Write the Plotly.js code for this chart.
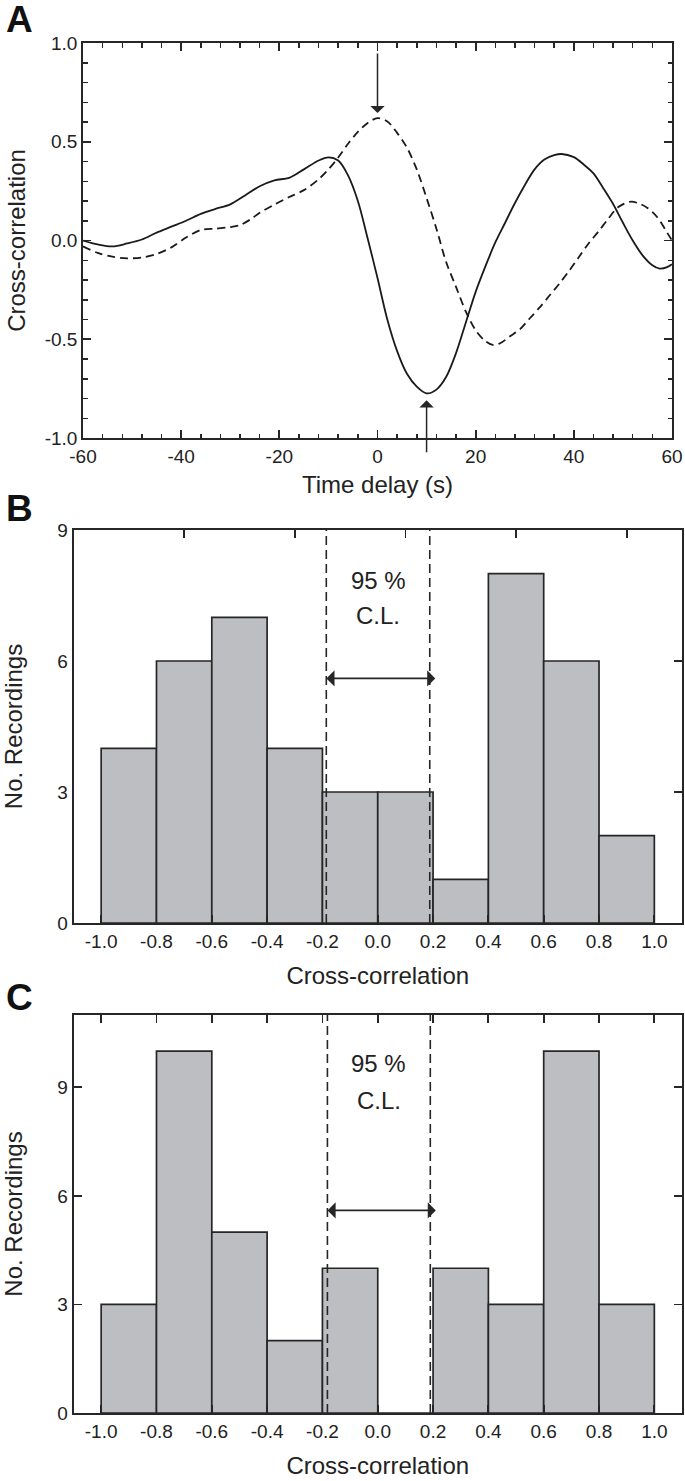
<!DOCTYPE html>
<html>
<head>
<meta charset="utf-8">
<script src="https://cdn.plot.ly/plotly-3.0.1.min.js"></script>
<style>html,body{margin:0;padding:0;background:#fff;}#chart{width:685px;height:1481px;}</style>
</head>
<body>
<div id="chart"></div>
<script>
// ---- Panel A data: cross-correlation vs time delay ----
const solidT = [-60,-57,-54,-51,-48,-45,-42,-39,-36,-33,-30,-27,-24,-21,-18,-15,-12,-10,-8,-6,-4,-2,0,2,4,6,8,10,12,14,16,18,20,22,24,26,28,30,32,34,36,37.5,40,42,44,46,48,50,52,54,56,57.5,59,60];
const solidR = [0.00,-0.02,-0.03,-0.015,0.005,0.04,0.07,0.10,0.135,0.16,0.183,0.228,0.275,0.305,0.317,0.36,0.405,0.421,0.405,0.33,0.20,0.01,-0.19,-0.40,-0.56,-0.675,-0.74,-0.774,-0.755,-0.69,-0.57,-0.415,-0.26,-0.13,-0.01,0.09,0.19,0.28,0.36,0.41,0.432,0.438,0.422,0.385,0.34,0.265,0.185,0.09,0.0,-0.075,-0.125,-0.142,-0.135,-0.12];
const dashedT = [-60,-57,-54,-51,-48,-45,-42,-39,-36,-33,-30,-28,-26,-24,-21,-18,-15,-12,-10,-8,-6,-4,-2,0,2,4,6,8,10,12,14,16,18,20,22,23.5,25,27,29,31,33,35,37,39,41,43,45,47,49,51.4,53,55,57,59,60];
const dashedR = [-0.03,-0.063,-0.082,-0.09,-0.086,-0.068,-0.035,0.015,0.053,0.06,0.068,0.078,0.105,0.14,0.182,0.22,0.255,0.31,0.36,0.42,0.49,0.55,0.595,0.62,0.603,0.545,0.47,0.36,0.215,0.06,-0.11,-0.235,-0.36,-0.455,-0.51,-0.529,-0.52,-0.485,-0.45,-0.395,-0.34,-0.28,-0.22,-0.155,-0.085,-0.015,0.045,0.11,0.168,0.196,0.19,0.165,0.118,0.04,0.0];
const timeTicks = [-60,-40,-20,0,20,40,60];
const timeTickText = ['-60','-40','-20','0','20','40','60'];
const corrTicks = [-1.0,-0.5,0.0,0.5,1.0];
const corrTickText = ['-1.0','-0.5','0.0','0.5','1.0'];

// ---- Panels B & C: histograms of cross-correlation ----
const binCenters = [-0.9,-0.7,-0.5,-0.3,-0.1,0.1,0.3,0.5,0.7,0.9];
const countsB = [4,6,7,4,3,3,1,8,6,2];
const countsC = [3,10,5,2,4,0,4,3,10,3];
const histTicks = [-1.0,-0.8,-0.6,-0.4,-0.2,0.0,0.2,0.4,0.6,0.8,1.0];
const histTickText = ['-1.0','-0.8','-0.6','-0.4','-0.2','0.0','0.2','0.4','0.6','0.8','1.0'];
const topTicksB = [-0.7,-0.3,0.1,0.5,0.9];
const countTicks = [0,3,6,9];
const clB = [-0.186, 0.188];   // 95 % confidence limits, panel B
const clC = [-0.182, 0.190];   // 95 % confidence limits, panel C
const clArrowY = [5.6, 5.6];   // height of the double arrow (B, C)
const clTextY = [[7.85,7.05],[9.65,8.63]];

const W = 685, H = 1481;
const px = v => v / W;
const py = v => 1 - v / H;
const FONT = '"Liberation Sans", Arial, Helvetica, sans-serif';
const INK = '#262626';

// minor tick positions (every 4 s, every 0.1)
const minorTime = [];
for (let t = -60; t <= 60; t += 4) minorTime.push(t);
const minorCorr = [];
for (let k = -10; k <= 10; k++) minorCorr.push(k / 10);

const baseAxis = {
  showline: true, linecolor: INK, linewidth: 1.8,
  showgrid: false, zeroline: false,
  ticks: 'inside', tickcolor: INK, tickwidth: 1.8, ticklen: 8,
  tickfont: {family: FONT, size: 19, color: '#222'},
  fixedrange: true
};

const traces = [
  {x: solidT, y: solidR, xaxis: 'x', yaxis: 'y', type: 'scatter', mode: 'lines',
   line: {color: '#1a1a1a', width: 1.8, shape: 'spline', smoothing: 0.9}},
  {x: dashedT, y: dashedR, xaxis: 'x', yaxis: 'y', type: 'scatter', mode: 'lines',
   line: {color: '#1a1a1a', width: 1.8, dash: '8px,5px', shape: 'spline', smoothing: 0.9}},
  {x: binCenters, y: countsB, xaxis: 'x2', yaxis: 'y2', type: 'bar', width: 0.2,
   marker: {color: '#bdbec2', line: {color: INK, width: 1.7}}},
  {x: binCenters, y: countsC, xaxis: 'x3', yaxis: 'y3', type: 'bar', width: 0.2,
   marker: {color: '#bdbec2', line: {color: INK, width: 1.7}}},
  // carriers for the extra tick-only axes (panel B top/right, panel A minor ticks)
  {x: [], y: [], xaxis: 'x4', yaxis: 'y4', type: 'scatter', mode: 'lines', showlegend: false},
  {x: [], y: [], xaxis: 'x5', yaxis: 'y5', type: 'scatter', mode: 'lines', showlegend: false}
];

// locate arrow targets in panel A from the data
const iMax = dashedR.indexOf(Math.max(...dashedR));
const iMin = solidR.indexOf(Math.min(...solidR));

const annotations = [
  {xref: 'paper', yref: 'paper', x: px(4), y: py(20), xanchor: 'left', yanchor: 'middle', text: '<b>A</b>', showarrow: false, font: {family: FONT, size: 37, color: '#111'}},
  {xref: 'paper', yref: 'paper', x: px(4), y: py(508), xanchor: 'left', yanchor: 'middle', text: '<b>B</b>', showarrow: false, font: {family: FONT, size: 37, color: '#111'}},
  {xref: 'paper', yref: 'paper', x: px(4), y: py(997), xanchor: 'left', yanchor: 'middle', text: '<b>C</b>', showarrow: false, font: {family: FONT, size: 37, color: '#111'}},
  // panel A arrows
  {xref: 'x', yref: 'y', axref: 'x', ayref: 'y', x: dashedT[iMax], y: dashedR[iMax] + 0.025, ax: dashedT[iMax], ay: 0.955,
   showarrow: true, arrowhead: 1, arrowsize: 1.6, arrowwidth: 1.5, arrowcolor: INK, text: ''},
  {xref: 'x', yref: 'y', axref: 'x', ayref: 'y', x: solidT[iMin], y: solidR[iMin] - 0.035, ax: solidT[iMin], ay: -1.08,
   showarrow: true, arrowhead: 1, arrowsize: 1.6, arrowwidth: 1.5, arrowcolor: INK, text: ''}
];

const clSets = [[clB, 'x2', 'y2', 0], [clC, 'x3', 'y3', 1]];
const shapes = [];
clSets.forEach(([cl, xa, ya, k]) => {
  cl.forEach(c => shapes.push({type: 'line', xref: xa, yref: ya + ' domain', x0: c, x1: c, y0: 0, y1: 1,
    line: {color: INK, width: 1.6, dash: '9px,5px'}, layer: 'above'}));
  annotations.push({xref: xa, yref: ya, axref: xa, ayref: ya, x: cl[1] + 0.02, y: clArrowY[k], ax: cl[0] - 0.005, ay: clArrowY[k],
    showarrow: true, arrowside: 'end+start', arrowhead: 1, arrowsize: 1.5, arrowwidth: 1.8, arrowcolor: INK, text: ''});
  annotations.push({xref: xa, yref: ya, x: (cl[0] + cl[1]) / 2, y: clTextY[k][0], text: '95 %', showarrow: false,
    font: {family: FONT, size: 24, color: '#222'}});
  annotations.push({xref: xa, yref: ya, x: (cl[0] + cl[1]) / 2, y: clTextY[k][1], text: 'C.L.', showarrow: false,
    font: {family: FONT, size: 24, color: '#222'}});
});

const titleFont = {family: FONT, size: 24, color: '#222'};
const tickOnly = {showticklabels: false, showline: false, ticklen: 4.5, tickwidth: 1.5, mirror: 'ticks'};

const layout = {
  width: W, height: H,
  margin: {l: 0, r: 0, t: 0, b: 0},
  paper_bgcolor: '#fff', plot_bgcolor: '#fff',
  showlegend: false,
  xaxis: Object.assign({}, baseAxis, {
    domain: [px(83), px(672)], anchor: 'y', range: [-60, 60],
    tickmode: 'array', tickvals: timeTicks, ticktext: timeTickText,
    mirror: 'ticks',
    title: {text: 'Time delay (s)', font: titleFont, standoff: 11}
  }),
  yaxis: Object.assign({}, baseAxis, {
    domain: [py(438), py(43)], anchor: 'x', range: [-1, 1],
    tickmode: 'array', tickvals: corrTicks, ticktext: corrTickText,
    mirror: 'ticks',
    title: {text: 'Cross-correlation', font: titleFont, standoff: 12}
  }),
  xaxis5: Object.assign({}, baseAxis, tickOnly, {
    overlaying: 'x', anchor: 'y', side: 'bottom', range: [-60, 60], tickmode: 'array', tickvals: minorTime
  }),
  yaxis5: Object.assign({}, baseAxis, tickOnly, {
    overlaying: 'y', anchor: 'x', side: 'left', range: [-1, 1], tickmode: 'array', tickvals: minorCorr
  }),
  xaxis2: Object.assign({}, baseAxis, {
    domain: [px(73.5), px(682)], anchor: 'y2', range: [-1.1, 1.1], tickvals: histTicks, ticktext: histTickText,
    mirror: true,
    title: {text: 'Cross-correlation', font: titleFont, standoff: 17}
  }),
  yaxis2: Object.assign({}, baseAxis, {
    domain: [py(923), py(530)], anchor: 'x2', range: [0, 9], tickvals: countTicks,
    ticks: '', mirror: true,
    title: {text: 'No. Recordings', font: titleFont, standoff: 31}
  }),
  xaxis4: Object.assign({}, baseAxis, {
    overlaying: 'x2', anchor: 'y2', side: 'top', range: [-1.1, 1.1], tickvals: topTicksB,
    showticklabels: false, showline: false
  }),
  yaxis4: Object.assign({}, baseAxis, {
    overlaying: 'y2', anchor: 'x2', side: 'right', range: [0, 9], tickvals: countTicks,
    showticklabels: false, showline: false
  }),
  xaxis3: Object.assign({}, baseAxis, {
    domain: [px(73.5), px(682)], anchor: 'y3', range: [-1.1, 1.1], tickvals: histTicks, ticktext: histTickText,
    mirror: 'ticks',
    title: {text: 'Cross-correlation', font: titleFont, standoff: 17}
  }),
  yaxis3: Object.assign({}, baseAxis, {
    domain: [py(1413), py(1015)], anchor: 'x3', range: [0, 11], tickvals: countTicks,
    mirror: 'ticks',
    title: {text: 'No. Recordings', font: titleFont, standoff: 31}
  }),
  annotations: annotations,
  shapes: shapes,
  bargap: 0
};

Plotly.newPlot('chart', traces, layout, {staticPlot: true, displayModeBar: false});
</script>
</body>
</html>
